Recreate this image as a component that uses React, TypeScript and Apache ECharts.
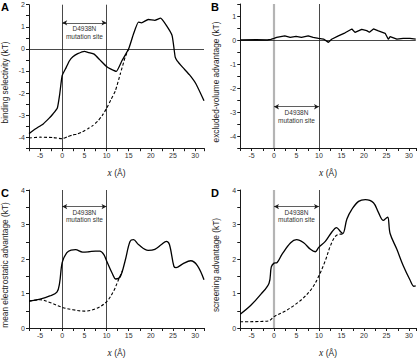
import React, { useEffect, useRef } from "react";
import * as echarts from "echarts";

// Profiles along the channel coordinate x (Å)
const solidA: number[][] = [[-7.5,-3.84],[-6,-3.62],[-4.3,-3.4],[-3,-3.15],[-2.1,-2.95],[-1.1,-2.68],[-0.6,-2.1],[-0.2,-1.45],[0,-1.2],[0.9,-0.84],[1.6,-0.55],[2.4,-0.36],[3.5,-0.22],[5,-0.11],[6,-0.17],[7.2,-0.24],[8.5,-0.5],[10,-0.8],[11,-0.92],[12.2,-1.02],[13.5,-0.53],[15,0],[16.1,0.68],[17.2,1.21],[17.9,1.18],[19.4,1.33],[20.9,1.29],[22.2,1.39],[23.5,1.06],[24.8,0.6],[25.5,-0.38],[25.9,-0.53],[27.2,-0.84],[28.7,-1.17],[30.2,-1.59],[32,-2.35]];
const dashedA: number[][] = [[-7.5,-4.04],[-5,-4.0],[-2,-4.02],[0,-4.07],[1.2,-3.98],[2.4,-3.9],[3.5,-3.85],[4.6,-3.75],[5.8,-3.62],[6.8,-3.49],[8,-3.28],[9,-3.03],[10,-2.7],[11,-2.3],[12,-1.9],[13.1,-1.14],[14.2,-0.38],[15,0]];

const solidB: number[][] = [[-7.5,0],[-4,0.01],[-1.5,0],[-0.7,0.03],[0,0.07],[0.6,0.11],[1.5,0.14],[2.4,0.17],[3.6,0.11],[4.9,0.15],[6.1,0.11],[7.6,0.17],[8.7,0.11],[9.9,0.07],[11,0.04],[12.1,-0.1],[12.8,0.03],[14.3,0.17],[15.8,0.3],[17.3,0.46],[18,0.32],[19.5,0.44],[20.6,0.39],[21.2,0.32],[22.1,0.46],[23.2,0.38],[24.7,0.28],[25.4,0.03],[25.8,0.14],[27.3,0.04],[28.7,0.07],[30.2,0.07],[31.5,0.04]];

const solidC: number[][] = [[-7.5,0.78],[-5,0.84],[-2.8,0.93],[-1.2,1.04],[-0.6,1.3],[0,1.9],[1,2.18],[2,2.26],[3,2.27],[4.6,2.2],[6,2.21],[7.5,2.23],[8.5,2.23],[9.4,2.13],[10,1.95],[11.3,1.58],[12.1,1.42],[13.1,1.49],[14.2,1.95],[15.3,2.51],[16.1,2.56],[17.2,2.42],[19.4,2.25],[20.9,2.28],[22.4,2.42],[23.5,2.51],[24.2,2.42],[25.2,1.79],[25.7,1.75],[27.2,1.86],[29,1.95],[30.5,1.81],[32,1.4]];
const dashedC: number[][] = [[-7.5,0.78],[-5,0.82],[-2.8,0.74],[0,0.6],[2.4,0.53],[5,0.49],[7.6,0.56],[10,0.76],[11.6,1.07],[12.7,1.4],[13.6,1.66]];

const solidD: number[][] = [[-7.5,0.4],[-5.2,0.65],[-2.9,0.98],[-1.1,1.3],[-0.6,1.77],[0,1.88],[0.7,1.9],[1.8,2.14],[3.7,2.47],[5,2.56],[6.6,2.47],[8.1,2.28],[9.2,2.21],[9.9,2.33],[11.4,2.51],[12.9,2.79],[13.9,2.91],[14.8,2.79],[15.3,2.74],[16.2,3.16],[17.3,3.44],[18.8,3.67],[20.3,3.72],[22.1,3.63],[23.2,3.35],[24.3,3.12],[24.9,3.18],[25.3,3.21],[25.8,2.74],[27.3,2.28],[28.7,1.81],[30.2,1.4],[31.1,1.21],[31.5,1.22]];
const dashedD: number[][] = [[-7.5,0.18],[-2.9,0.19],[-1.1,0.21],[0,0.33],[2.2,0.47],[4.4,0.65],[6.6,0.88],[8.5,1.16],[9.9,1.49],[11.4,1.95],[12.5,2.37],[13.6,2.65],[14.7,2.72],[15.5,2.72]];

const panelLetters = ["A", "B", "C", "D"];
const yNames = [
  "binding selectivity (kT)",
  "excluded-volume advantage (kT)",
  "mean electrostatic advantage (kT)",
  "screening advantage (kT)",
];
const yRanges = [[-4.5, 2], [-4.5, 1.5], [0, 4], [0, 4]];
const xMax = [32, 31.5, 32, 31.5];
// mutation site spans x = 0..10; arrow height per panel
const siteRange = [0, 10];
const arrowY = [1.18, -2.78, 3.52, 3.52];
const siteLabel = "D4938N\nmutation site";

const FONT = "Liberation Sans, Arial, sans-serif";
const INK = "#1a1a1a";

const grids = [
  { left: 25.5, top: 4.7, width: 178.5, height: 143.5 },
  { left: 240.25, top: 4, width: 175.5, height: 144 },
  { left: 25.5, top: 190, width: 178.5, height: 143.3 },
  { left: 240.25, top: 190, width: 175.5, height: 143.3 },
];

export default function App() {
  const ref = useRef<HTMLDivElement>(null);

  useEffect(() => {
    document.body.style.margin = "0";
    if (!ref.current) return;
    const chart = echarts.init(ref.current, null, { renderer: "svg" });

    const axisLine = { onZero: false, lineStyle: { color: INK, width: 1 } };
    const tickStyle = { lineStyle: { color: INK, width: 1 } };

    const xAxis = grids.map((_, i) => ({
      type: "value",
      gridIndex: i,
      min: -7.5,
      max: xMax[i],
      interval: 2.5,
      axisLine,
      axisTick: { length: 3, ...tickStyle },
      splitLine: { show: false },
      axisLabel: {
        fontSize: 7,
        margin: 4,
        color: "#333",
        fontFamily: FONT,
        formatter: (v: number) => (v % 5 === 0 ? String(v) : ""),
      },
      name: "{i|x} (Å)",
      nameLocation: "middle",
      nameGap: 20,
      nameTextStyle: {
        fontSize: 8.5,
        color: INK,
        fontFamily: FONT,
        rich: { i: { fontStyle: "italic", fontFamily: "Liberation Serif, serif", fontSize: 9.5, color: INK } },
      },
    }));

    const yAxis = grids.map((_, i) => ({
      type: "value",
      gridIndex: i,
      min: yRanges[i][0],
      max: yRanges[i][1],
      interval: 0.5,
      axisLine,
      axisTick: { length: 3, ...tickStyle },
      splitLine: { show: false },
      axisLabel: {
        fontSize: 7,
        margin: 4,
        color: "#333",
        fontFamily: FONT,
        formatter: (v: number) => (Number.isInteger(v) ? String(v) : ""),
      },
      name: yNames[i],
      nameLocation: "middle",
      nameGap: 20,
      nameTextStyle: { fontSize: 8.3, color: INK, fontFamily: FONT, padding: [0, 12, 0, 0] },
    }));

    const solids = [solidA, solidB, solidC, solidD];
    const dashes = [dashedA, null, dashedC, dashedD];
    const smoothness = [0.15, false, 0.35, 0.35];

    const series: any[] = [];
    solids.forEach((data, i) => {
      const greyStart = i === 1 || i === 3;
      const markData: any[] = [
        { xAxis: siteRange[0], lineStyle: greyStart ? { color: "#b4b4b4", width: 2.2, type: "solid" } : { color: INK, width: 0.8, type: "solid" } },
        { xAxis: siteRange[1], lineStyle: { color: INK, width: 0.8, type: "solid" } },
      ];
      if (yRanges[i][0] < 0) {
        markData.push({ yAxis: 0, lineStyle: { color: INK, width: 0.8, type: "solid" } });
      }
      markData.push([
        {
          coord: [siteRange[0], arrowY[i]],
          symbol: "arrow",
          symbolSize: [4, 5],
          lineStyle: { color: INK, width: 0.7, type: "solid" },
          label: {
            show: true,
            position: "insideMiddleBottom",
            formatter: siteLabel,
            fontSize: 6.5,
            lineHeight: 7.6,
            distance: 2,
            color: "#333",
            fontFamily: FONT,
          },
        },
        { coord: [siteRange[1], arrowY[i]], symbol: "arrow", symbolSize: [4, 5] },
      ]);

      series.push({
        type: "line",
        xAxisIndex: i,
        yAxisIndex: i,
        data,
        smooth: smoothness[i],
        showSymbol: false,
        lineStyle: { color: "#000", width: 1.3 },
        z: 3,
        markLine: {
          silent: true,
          symbol: ["none", "none"],
          label: { show: false },
          data: markData,
          z: 2,
        },
      });
      const d = dashes[i];
      if (d) {
        series.push({
          type: "line",
          xAxisIndex: i,
          yAxisIndex: i,
          data: d,
          smooth: smoothness[i],
          showSymbol: false,
          lineStyle: { color: "#000", width: 1.1, type: [3, 2] },
          z: 3,
        });
      }
    });

    const letterPos = [[1, 1], [211, 1], [1, 187], [211, 187]];
    const graphic = panelLetters.map((t, i) => ({
      type: "text",
      x: letterPos[i][0],
      y: letterPos[i][1],
      style: { text: t, fontSize: 11, fontWeight: "bold", fontFamily: FONT, fill: "#000", verticalAlign: "top" },
    }));

    chart.setOption({
      animation: false,
      textStyle: { fontFamily: FONT },
      grid: grids,
      xAxis,
      yAxis,
      series,
      graphic,
    });

    return () => chart.dispose();
  }, []);

  return <div ref={ref} style={{ width: 420, height: 359, background: "#fff" }} />;
}
